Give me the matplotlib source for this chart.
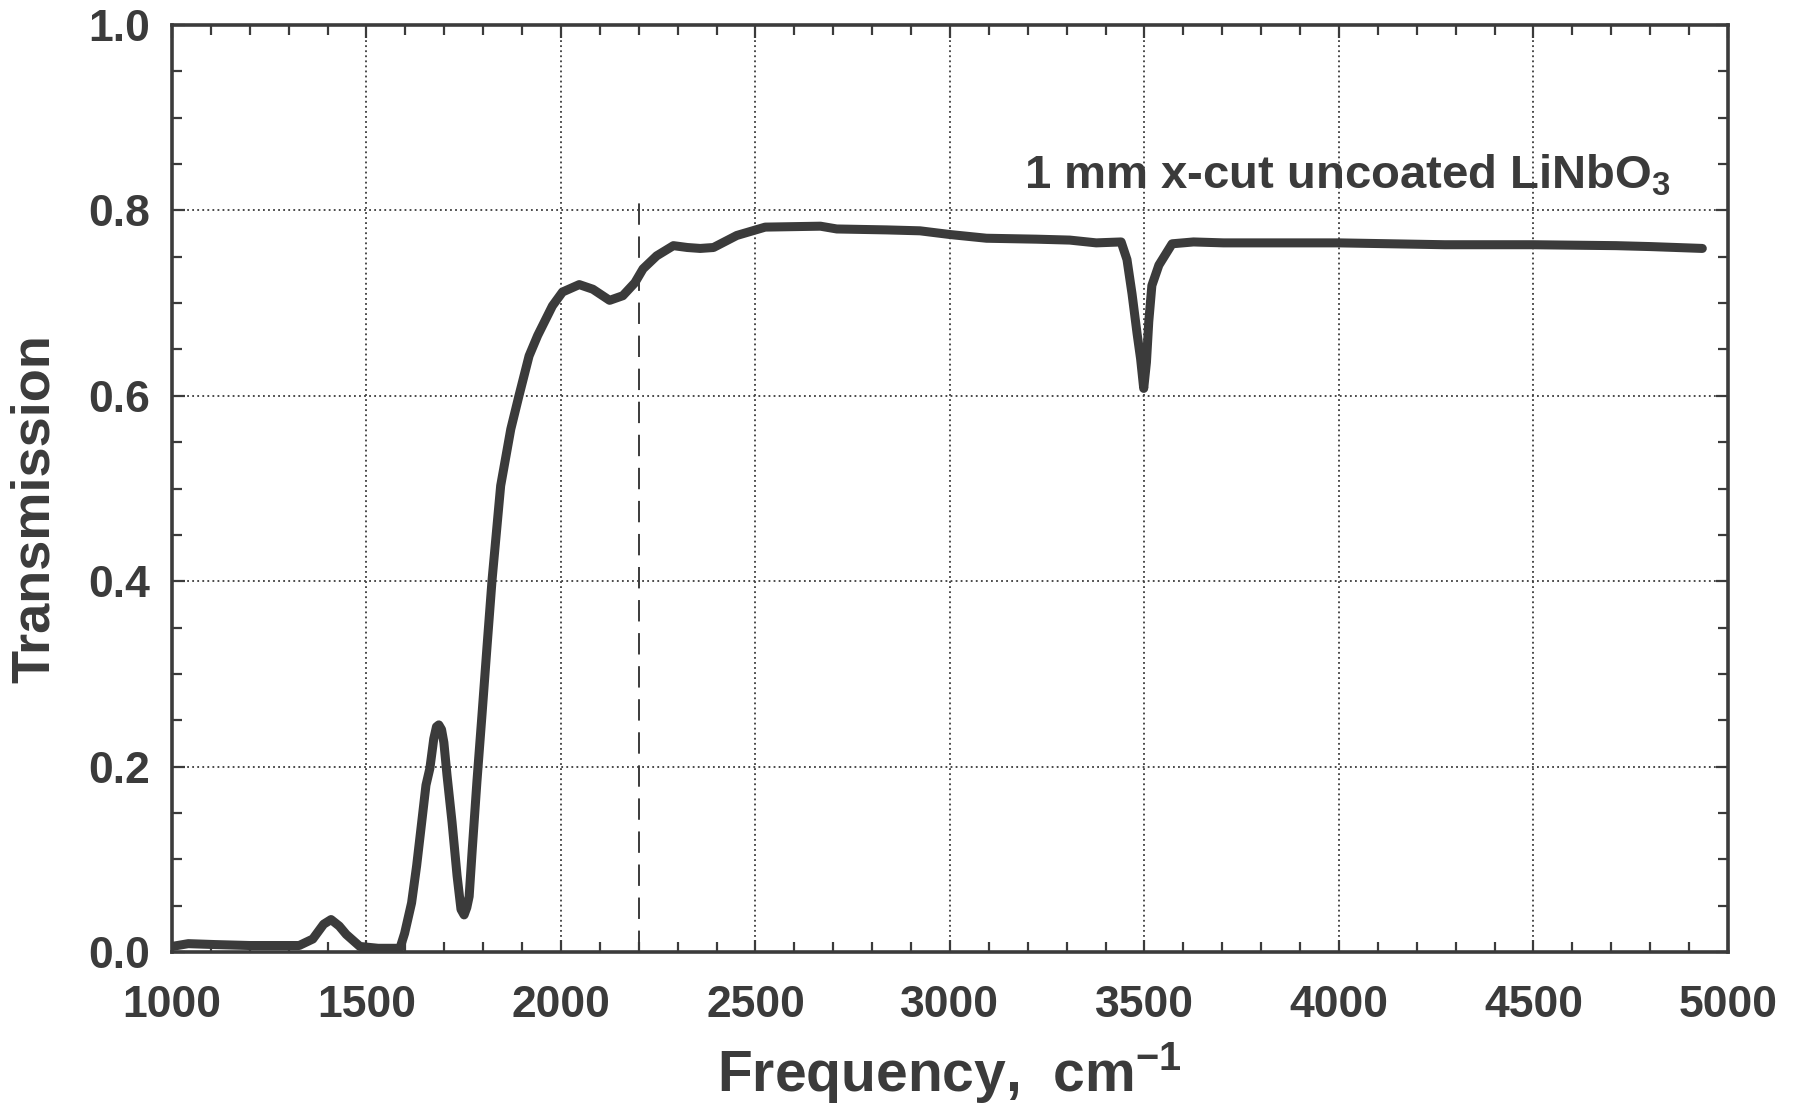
import matplotlib
matplotlib.use("Agg")
import matplotlib.pyplot as plt
from matplotlib.ticker import MultipleLocator, FormatStrFormatter

# transmission spectrum
freq = [1000, 1042, 1112, 1200, 1327, 1362, 1390, 1409, 1430, 1448, 1483, 1530,
        1586, 1598, 1616, 1629, 1642, 1653, 1663, 1673, 1680, 1686, 1693, 1699, 1707, 1720,
        1733, 1743, 1751, 1758, 1764, 1772, 1784, 1797, 1810, 1823, 1845, 1871,
        1892, 1918, 1940, 1978, 2004, 2047, 2082, 2125, 2159, 2190, 2211, 2246,
        2289, 2325, 2358, 2392, 2452, 2525, 2667, 2709, 2837, 2923, 3000, 3094,
        3222, 3308, 3376, 3440, 3455, 3468, 3481, 3490, 3498, 3505, 3511, 3519,
        3537, 3571, 3626, 3703, 4000, 4272, 4500, 4712, 4801, 4934]
trans = [0.006, 0.009, 0.008, 0.007, 0.007, 0.014, 0.030, 0.035, 0.028, 0.019, 0.006, 0.004,
         0.004, 0.020, 0.053, 0.093, 0.140, 0.180, 0.198, 0.230, 0.243, 0.245, 0.240, 0.226, 0.191, 0.140,
         0.082, 0.046, 0.040, 0.048, 0.060, 0.111, 0.184, 0.256, 0.330, 0.402, 0.503, 0.564,
         0.600, 0.643, 0.665, 0.697, 0.712, 0.720, 0.715, 0.703, 0.708, 0.722, 0.737, 0.751,
         0.762, 0.760, 0.759, 0.760, 0.773, 0.782, 0.783, 0.780, 0.779, 0.778, 0.774, 0.770,
         0.769, 0.768, 0.765, 0.766, 0.747, 0.710, 0.667, 0.640, 0.608, 0.636, 0.680, 0.719,
         0.741, 0.764, 0.766, 0.765, 0.765, 0.763, 0.763, 0.762, 0.761, 0.759]

cutoff_x = [2200, 2200]
cutoff_y = [0.0, 0.81]

label = r"1 mm x-cut uncoated LiNbO$_{\mathbf{3}}$"

INK = "#3b3b3b"
plt.rcParams["font.family"] = ["Liberation Sans", "DejaVu Sans"]
plt.rcParams["font.weight"] = "bold"
plt.rcParams["axes.labelweight"] = "bold"
plt.rcParams["mathtext.fontset"] = "custom"
plt.rcParams["mathtext.rm"] = "Liberation Sans:bold"
plt.rcParams["mathtext.bf"] = "Liberation Sans:bold"

fig = plt.figure(figsize=(18.1, 11.03), dpi=100)
ax = fig.add_axes([0.095, 0.1369, 0.8597, 0.8404])

ax.plot(freq, trans, color=INK, lw=6.5, solid_joinstyle="round",
        solid_capstyle="round", zorder=3)
ax.plot(cutoff_x, cutoff_y, color=INK, lw=1.4, linestyle=(0, (11, 6)), zorder=2)

ax.set_xlim(1000, 5000)
ax.set_ylim(0, 1.0)
ax.xaxis.set_major_locator(MultipleLocator(500))
ax.xaxis.set_minor_locator(MultipleLocator(100))
ax.yaxis.set_major_locator(MultipleLocator(0.2))
ax.yaxis.set_minor_locator(MultipleLocator(0.05))
ax.yaxis.set_major_formatter(FormatStrFormatter("%.1f"))
ax.grid(which="major", color=INK, lw=1.3, linestyle=(0, (1, 1.8)))

ax.tick_params(which="both", direction="in", top=True, right=True,
               color=INK, width=1.6, labelcolor=INK, labelsize=32)
ax.tick_params(which="major", length=9)
ax.tick_params(which="minor", length=7)
ax.tick_params(axis="x", pad=24)
ax.tick_params(axis="y", pad=16)
for s in ax.spines.values():
    s.set_linewidth(2.6)
    s.set_color(INK)

ax.set_xlabel(r"Frequency,  cm$^{\mathbf{-1}}$", fontsize=41, color=INK, labelpad=10)
ax.set_ylabel("Transmission", fontsize=39, color=INK)
ax.yaxis.set_label_coords(-0.072, 0.478)
ax.text(3190, 0.824, label, fontsize=34, color=INK, ha="left", va="baseline")

fig.savefig("out.png", dpi=100, facecolor="white")
